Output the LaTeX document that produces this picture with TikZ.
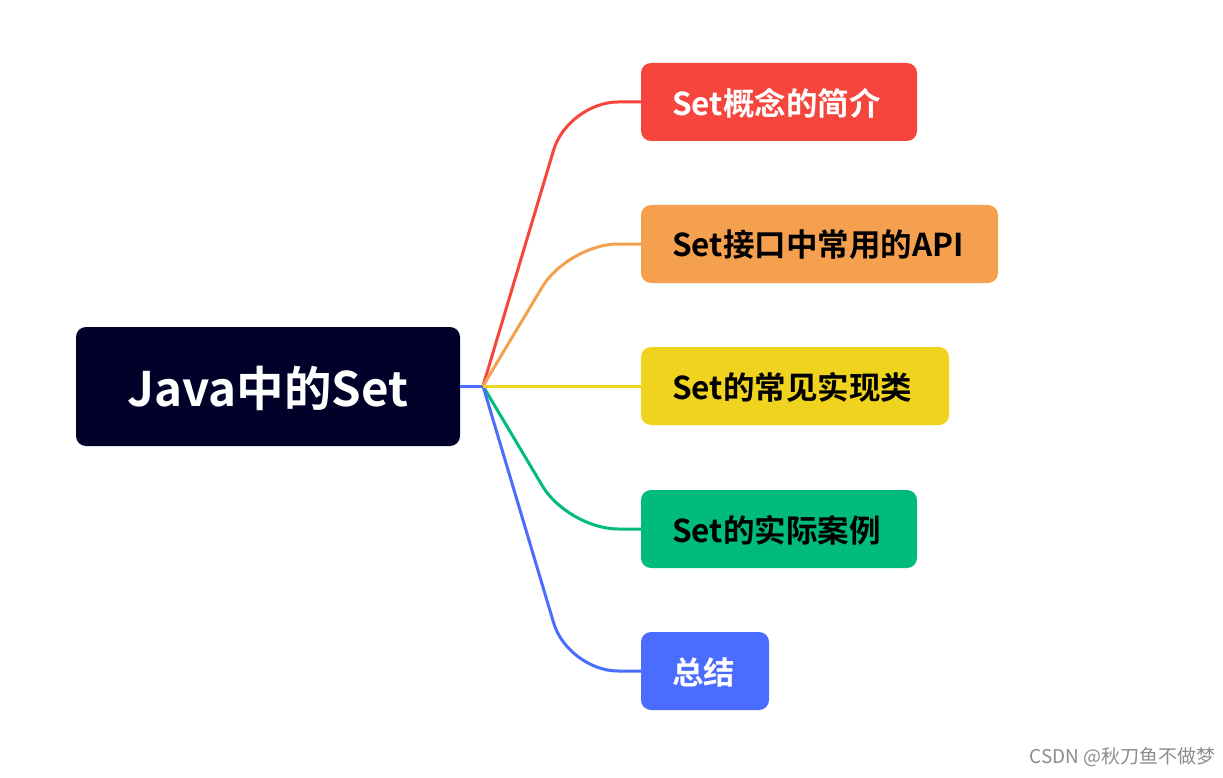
\documentclass[tikz,border=0pt]{standalone}
\usepackage{fontspec}
\newfontfamily\cjk{Noto Sans CJK SC}
\newfontfamily\cjkb{Noto Sans CJK SC Bold}
\definecolor{cRoot}{HTML}{000028}
\definecolor{cRed}{HTML}{F5453D}
\definecolor{cOra}{HTML}{F5A04F}
\definecolor{cYel}{HTML}{F0D31E}
\definecolor{cGre}{HTML}{00BB7A}
\definecolor{cBlu}{HTML}{4A6CFF}
\begin{document}
\begin{tikzpicture}[x=1pt,y=-1pt,
  lbl/.style={font=\cjkb\fontsize{31.5}{34}\selectfont,anchor=west,inner sep=0pt},
  conn/.style={line width=3pt,rounded corners=50pt}]
\useasboundingbox (0,0) rectangle (1223,778);
\fill[cRoot,rounded corners=10pt] (76,327) rectangle (460,446);
\node[font=\cjkb\fontsize{47.5}{50}\selectfont,text=white] (root) at (268,388) {Java中的Set};
\coordinate (hub) at (483,386);
\draw[cBlu,line width=3pt] (460,386) -- (hub);
\foreach \n/\c/\y/\w/\t/\tc in {a/cRed/63/917/Set概念的简介/white, b/cOra/205/998/Set接口中常用的API/black, c/cYel/347/949/Set的常见实现类/black, d/cGre/490/917/Set的实际案例/black, e/cBlu/632/769/总结/white}{
  \fill[\c,rounded corners=10pt] (641,\y) rectangle (\w,\y+78);
  \coordinate (\n) at (641,\y+39);
  \node[lbl,text=\tc] (t\n) at (672,\y+40) {\t};
  \draw[conn,\c] (hub) -- (568,\y+39) -- (\n);
}
\draw[cYel,line width=3pt] (hub) -- (c);
\node[font=\cjk\fontsize{19}{22}\selectfont,text=black!45,anchor=east] (wm) at (1219,757) {CSDN @秋刀鱼不做梦};
\end{tikzpicture}
\end{document}
